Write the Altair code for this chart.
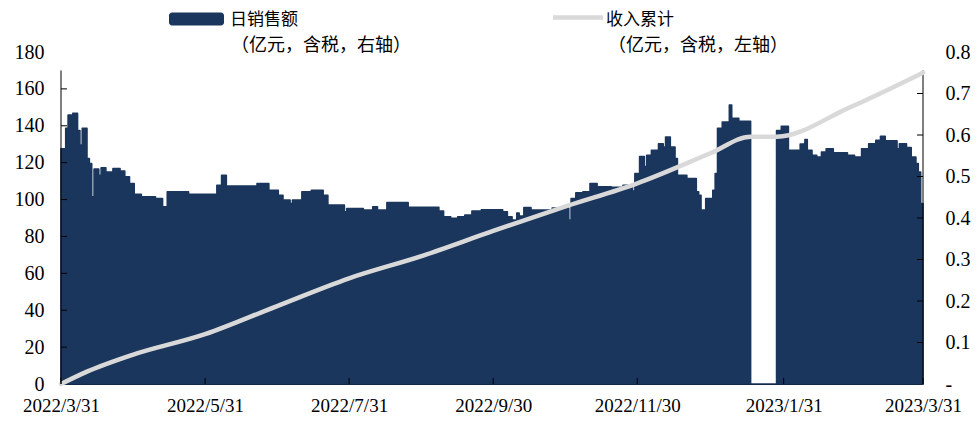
import altair as alt
import pandas as pd

NAVY = "#1B365D"
GREY = "#D9D9D9"
SERIF = "Liberation Serif"
CJK = "Noto Sans CJK SC"

# 日销售额 (亿元, 右轴) — level changes (step series)
sales_dates = [
    "2022-03-31", "2022-04-02", "2022-04-03", "2022-04-05", "2022-04-07", "2022-04-08",
    "2022-04-09", "2022-04-11", "2022-04-12", "2022-04-13", "2022-04-14", "2022-04-16",
    "2022-04-17", "2022-04-19", "2022-04-22", "2022-04-25", "2022-04-27", "2022-04-29",
    "2022-05-01", "2022-05-04", "2022-05-10", "2022-05-13", "2022-05-15", "2022-05-24",
    "2022-06-05", "2022-06-07", "2022-06-09", "2022-06-22", "2022-06-27", "2022-07-01",
    "2022-07-03", "2022-07-06", "2022-07-07", "2022-07-11", "2022-07-15", "2022-07-20",
    "2022-07-22", "2022-07-29", "2022-07-30", "2022-08-06", "2022-08-10", "2022-08-12",
    "2022-08-16", "2022-08-25", "2022-09-07", "2022-09-09", "2022-09-12", "2022-09-15",
    "2022-09-18", "2022-09-21", "2022-09-25", "2022-10-04", "2022-10-06", "2022-10-08",
    "2022-10-10", "2022-10-11", "2022-10-13", "2022-10-16", "2022-10-25", "2022-11-01",
    "2022-11-02", "2022-11-04", "2022-11-07", "2022-11-10", "2022-11-13", "2022-11-19",
    "2022-11-24", "2022-11-26", "2022-11-28", "2022-11-29", "2022-12-01", "2022-12-03",
    "2022-12-04", "2022-12-06", "2022-12-09", "2022-12-11", "2022-12-12", "2022-12-14",
    "2022-12-16", "2022-12-17", "2022-12-21", "2022-12-25", "2022-12-26", "2022-12-27",
    "2022-12-29", "2023-01-01", "2023-01-02", "2023-01-03", "2023-01-05", "2023-01-08",
    "2023-01-09", "2023-01-12", "2023-01-17", "2023-01-28", "2023-01-30", "2023-02-02",
    "2023-02-07", "2023-02-09", "2023-02-10", "2023-02-12", "2023-02-14", "2023-02-16",
    "2023-02-18", "2023-02-21", "2023-02-27", "2023-03-02", "2023-03-05", "2023-03-08",
    "2023-03-11", "2023-03-13", "2023-03-15", "2023-03-20", "2023-03-21", "2023-03-24",
    "2023-03-26", "2023-03-28", "2023-03-29", "2023-03-30", "2023-03-31",
]
sales_values = [
    0.567, 0.616, 0.648, 0.652, 0.611, 0.576,
    0.616, 0.543, 0.531, 0.451, 0.518, 0.503,
    0.521, 0.511, 0.519, 0.513, 0.499, 0.483,
    0.457, 0.451, 0.447, 0.427, 0.463, 0.457,
    0.479, 0.503, 0.477, 0.483, 0.467, 0.455,
    0.443, 0.435, 0.443, 0.463, 0.467, 0.455,
    0.431, 0.415, 0.423, 0.419, 0.427, 0.419,
    0.437, 0.426, 0.417, 0.403, 0.399, 0.403,
    0.407, 0.417, 0.420, 0.415, 0.403, 0.395,
    0.412, 0.405, 0.425, 0.419, 0.424, 0.395,
    0.447, 0.461, 0.463, 0.483, 0.475, 0.474,
    0.479, 0.475, 0.465, 0.507, 0.548, 0.524,
    0.551, 0.563, 0.579, 0.571, 0.595, 0.571,
    0.543, 0.503, 0.495, 0.463, 0.455, 0.419,
    0.447, 0.467, 0.507, 0.616, 0.631, 0.672,
    0.640, 0.633, 0.0, 0.611, 0.621, 0.563,
    0.578, 0.589, 0.563, 0.551, 0.547, 0.559,
    0.567, 0.557, 0.551, 0.547, 0.567, 0.579,
    0.587, 0.597, 0.586, 0.567, 0.579, 0.570,
    0.547, 0.531, 0.511, 0.435, 0.435,
]

# 收入累计 (亿元, 左轴)
cum_dates = [
    "2022-03-31", "2022-04-11", "2022-04-30", "2022-05-31", "2022-06-30", "2022-07-31",
    "2022-08-31", "2022-09-30", "2022-10-31", "2022-11-30", "2022-12-31", "2023-01-17",
    "2023-01-28", "2023-02-28", "2023-03-31",
]
cum_values = [0, 6.7, 15.7, 27.0, 42.0, 57.3, 69.5, 83.0, 96.4, 108.8, 125.1, 134.1, 134.1, 150.0, 168.8]

x_tick_dates = ["2022-03-31", "2022-05-31", "2022-07-31", "2022-09-30",
                "2022-11-30", "2023-01-31", "2023-03-31"]
left_ticks = [0, 20, 40, 60, 80, 100, 120, 140, 160, 180]
right_ticks = [0, 0.1, 0.2, 0.3, 0.4, 0.5, 0.6, 0.7, 0.8]

legend_bar_name = "日销售额"
legend_bar_note = "（亿元，含税，右轴）"
legend_line_name = "收入累计"
legend_line_note = "（亿元，含税，左轴）"

W, H = 862, 332
TOP_AXIS = H * 10 / 180  # axis lines stop below the top label


def dt(s):
    y, m, d = (int(p) for p in s.split("-"))
    return alt.DateTime(year=y, month=m, date=d, utc=True)


x_scale = alt.Scale(type="utc", domain=[dt(x_tick_dates[0]), dt(x_tick_dates[-1])])
x_axis = alt.Axis(
    values=[dt(s) for s in x_tick_dates],
    labelExpr="utcFormat(datum.value, '%Y/%-m/%-d')",
    tickSize=0, labelPadding=12, domain=True, domainColor="#000", domainWidth=1,
    grid=False, labelFont=SERIF, labelFontSize=19, labelColor="#000", title=None,
    labelFlush=False, labelOverlap=False,
)


def xenc(field):
    return alt.X(f"{field}:T", scale=x_scale, axis=x_axis, title=None)


sales_df = pd.DataFrame({"date": sales_dates, "sales": sales_values})
cum_df = pd.DataFrame({"date": cum_dates, "cum": cum_values})
one = pd.DataFrame({"k": [0]})

left_scale = alt.Scale(domain=[0, 180], nice=False)
right_scale = alt.Scale(domain=[0, 0.8], nice=False)

left_axis = alt.Axis(
    orient="left", values=left_ticks, tickSize=0, labelPadding=17, domain=False,
    grid=False, labelFont=SERIF, labelFontSize=20, labelColor="#000", title=None,
    labelFlush=False, labelOverlap=False,
)
right_axis = alt.Axis(
    orient="right", values=right_ticks, tickSize=0, labelPadding=22, domain=False,
    grid=False, labelFont=SERIF, labelFontSize=20, labelColor="#000", title=None,
    labelFlush=False, labelOverlap=False,
    labelExpr="datum.value == 0 ? '-' : format(datum.value, '.1f')",
)

area = alt.Chart(sales_df).mark_area(
    interpolate="step-after", color=NAVY, stroke=NAVY, strokeWidth=1.6, strokeJoin="round"
).encode(
    x=xenc("date"),
    y=alt.Y("sales:Q", scale=right_scale, axis=right_axis, title=None),
)
rticks = alt.Chart(pd.DataFrame({"t": right_ticks[1:-1]})).mark_rule(color="#000", strokeWidth=1).encode(
    y=alt.Y("t:Q", scale=right_scale, axis=right_axis, title=None),
    x=alt.value(W - 6), x2=alt.value(W),
)
rdomain = alt.Chart(one).mark_rule(color="#000", strokeWidth=1).encode(
    x=alt.value(W), y=alt.value(TOP_AXIS), y2=alt.value(H)
)
right_group = alt.layer(area, rticks, rdomain)

line = alt.Chart(cum_df).mark_line(
    color=GREY, strokeWidth=4.5, strokeCap="round", strokeJoin="round", interpolate="monotone"
).encode(
    x=xenc("date"),
    y=alt.Y("cum:Q", scale=left_scale, axis=left_axis, title=None),
)
lticks = alt.Chart(pd.DataFrame({"t": left_ticks[1:-1]})).mark_rule(color="#000", strokeWidth=1).encode(
    y=alt.Y("t:Q", scale=left_scale, axis=left_axis, title=None),
    x=alt.value(0), x2=alt.value(6),
)
ldomain = alt.Chart(one).mark_rule(color="#000", strokeWidth=1).encode(
    x=alt.value(0), y=alt.value(TOP_AXIS), y2=alt.value(H)
)
left_group = alt.layer(line, lticks, ldomain)

xticks = alt.Chart(pd.DataFrame({"date": x_tick_dates})).mark_rule(color="#000", strokeWidth=1).encode(
    x=xenc("date"), y=alt.value(H - 6), y2=alt.value(H)
)

leg_rect = alt.Chart(one).mark_rect(color=NAVY, cornerRadius=3).encode(
    x=alt.value(108), x2=alt.value(163), y=alt.value(-39.5), y2=alt.value(-26.5)
)
leg_line = alt.Chart(one).mark_rule(color=GREY, strokeWidth=4.5).encode(
    x=alt.value(492), x2=alt.value(542), y=alt.value(-34.5)
)


def leg_text(txt, x, y, size):
    return alt.Chart(one).mark_text(
        align="left", baseline="middle", font=CJK, fontSize=size, color="#000"
    ).encode(x=alt.value(x), y=alt.value(y), text=alt.value(txt))


chart = alt.layer(
    right_group, left_group, xticks,
    leg_rect, leg_line,
    leg_text(legend_bar_name, 169, -32.5, 17),
    leg_text(legend_bar_note, 170, -6.5, 18),
    leg_text(legend_line_name, 545, -32.5, 17),
    leg_text(legend_line_note, 547, -6.5, 18),
).resolve_scale(y="independent").properties(
    width=W, height=H,
    autosize=alt.AutoSizeParams(type="none"),
    padding={"left": 53, "top": 44, "right": 48, "bottom": 32},
    background="white",
).configure_view(stroke=None)

chart.save("out.html", embed_options={"renderer": "svg", "actions": False})
